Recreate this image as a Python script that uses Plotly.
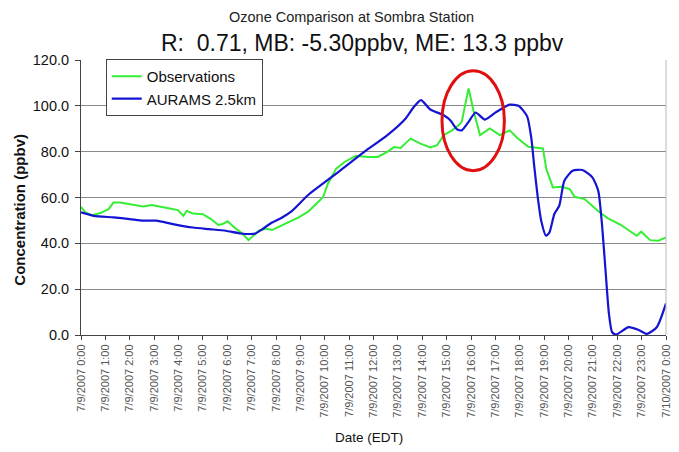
import plotly.graph_objects as go

# ---- data (hours after 7/9/2007 0:00 EDT, ppbv) ----
obs_hours = [0, 0.18, 0.45, 0.79, 1.13, 1.33, 1.6, 2.0, 2.28, 2.55, 2.9, 3.23, 3.64, 3.98,
             4.2, 4.34, 4.59, 5.0, 5.33, 5.64, 5.8, 6.01, 6.28, 6.62, 6.87, 7.1, 7.3, 7.57,
             7.84, 8.11, 8.52, 8.93, 9.32, 9.93, 10.13, 10.47, 10.81, 11.28, 11.76, 12.17,
             12.57, 12.84, 13.11, 13.52, 13.93, 14.33, 14.61, 14.88, 15.22, 15.49, 15.62,
             15.9, 16.1, 16.37, 16.77, 17.18, 17.59, 17.9, 18.35, 18.95, 19.09, 19.36,
             19.71, 20.05, 20.25, 20.66, 21.2, 21.6, 22.14, 22.8, 22.98, 23.35, 23.68, 24.0]
obs_values = [55.9, 53.5, 52.3, 53.2, 54.9, 57.8, 57.8, 57.1, 56.8, 56.1, 56.7, 55.9, 55.2, 54.5,
              52.0, 54.2, 53.0, 52.7, 50.6, 48.0, 48.4, 49.6, 47.0, 44.3, 41.4, 43.6, 45.5, 46.5,
              45.8, 47.2, 49.3, 51.3, 53.8, 60.1, 66.0, 72.6, 75.5, 78.2, 77.7, 77.7,
              79.9, 82.0, 81.6, 85.7, 83.5, 81.8, 82.8, 87.2, 89.3, 91.5, 93.0,
              107.6, 98.1, 87.2, 90.1, 87.2, 89.3, 86.0, 82.1, 81.4, 72.4, 64.4,
              64.7, 63.7, 60.3, 59.3, 54.2, 51.0, 48.1, 43.3, 45.1, 41.4, 41.1, 42.6]

model_hours = [0, 0.52, 1.33, 2.0, 2.55, 3.09, 3.77, 4.59, 5.26, 5.94, 6.55, 7.16, 7.44, 7.84,
               8.25, 8.66, 9.31, 10.47, 11.62, 12.57, 13.32, 13.66, 13.95, 14.33, 14.88, 15.15,
               15.42, 15.62, 15.9, 16.19, 16.57, 17.05, 17.59, 17.95, 18.3, 18.47, 18.6, 18.74,
               18.88, 19.08, 19.22, 19.42, 19.62, 19.83, 20.17, 20.57, 20.98, 21.22, 21.36,
               21.52, 21.66, 21.79, 21.95, 22.47, 22.88, 23.22, 23.62, 24.0]
model_values = [53.5, 52.0, 51.3, 50.6, 49.9, 49.9, 48.4, 46.9, 46.2, 45.5, 44.3, 44.3, 46.2, 49.1,
                51.3, 54.2, 61.0, 70.4, 79.9, 87.2, 94.5, 99.6, 102.5, 98.4, 95.9, 93.7,
                89.8, 89.3, 93.0, 97.1, 94.0, 97.4, 100.5, 100.0, 95.5, 86.2, 73.1, 60.0,
                49.9, 43.3, 44.8, 52.8, 56.4, 67.3, 71.7, 72.0, 68.8, 62.9, 49.9,
                28.1, 9.2, 1.2, 0.2, 3.4, 2.2, 0.5, 3.4, 13.8]

tick_hours = list(range(25))
tick_labels = [f"7/9/2007 {h}:00" for h in range(24)] + ["7/10/2007 0:00"]
y_ticks = [0, 20, 40, 60, 80, 100, 120]

# highlighted region (ellipse) in data units
ellipse_x = [14.81, 17.37]
ellipse_y = [71.7, 115.3]

FONT = "Liberation Sans, Arial, sans-serif"

fig = go.Figure()
fig.add_trace(go.Scatter(x=obs_hours, y=obs_values, mode="lines", name="Observations",
                         line=dict(color="#33ee33", width=2)))
fig.add_trace(go.Scatter(x=model_hours, y=model_values, mode="lines", name="AURAMS 2.5km",
                         line=dict(color="#1414d2", width=2.2, shape="spline", smoothing=0.6)))

fig.add_shape(type="circle", xref="x", yref="y",
              x0=ellipse_x[0], x1=ellipse_x[1], y0=ellipse_y[0], y1=ellipse_y[1],
              line=dict(color="#e01010", width=3))

# right border of plot area
fig.add_shape(type="line", xref="paper", yref="paper", x0=1, x1=1, y0=0, y1=1,
              line=dict(color="#b8b8b8", width=1))

fig.add_annotation(text="Ozone Comparison at Sombra Station", xref="paper", yref="paper",
                   x=(354 - 81) / 591, y=1 + (60 - 17) / 275, showarrow=False,
                   font=dict(family=FONT, size=14.5, color="#222"), xanchor="center", yanchor="middle")
fig.add_annotation(text="R:  0.71, MB: -5.30ppbv, ME: 13.3 ppbv", xref="paper", yref="paper",
                   x=(365 - 81) / 591, y=1 + (60 - 43) / 275, showarrow=False,
                   font=dict(family=FONT, size=23, color="#111"), xanchor="center", yanchor="middle")
fig.add_annotation(text="<b>Concentration (ppbv)</b>", xref="paper", yref="paper",
                   x=(18 - 81) / 591, y=(335 - 210) / 275, textangle=-90, showarrow=False,
                   font=dict(family=FONT, size=15, color="#111"), xanchor="center", yanchor="middle")
fig.add_annotation(text="Date (EDT)", xref="paper", yref="paper",
                   x=(372 - 81) / 591, y=-(437 - 335) / 275, showarrow=False,
                   font=dict(family=FONT, size=13.5, color="#111"), xanchor="center", yanchor="middle")

fig.update_layout(
    width=679, height=452,
    margin=dict(l=81, r=7, t=60, b=117),
    paper_bgcolor="white", plot_bgcolor="white",
    font=dict(family=FONT, color="#111"),
    showlegend=True,
    legend=dict(x=(106 - 81) / 591, y=1.004, xanchor="left", yanchor="top",
                bgcolor="white", bordercolor="#444", borderwidth=1,
                font=dict(family=FONT, size=15, color="#111"),
                tracegroupgap=0, itemwidth=30),
    xaxis=dict(range=[0, 24], tickmode="array", tickvals=tick_hours, ticktext=tick_labels,
               tickangle=-90, ticks="outside", ticklen=4, tickcolor="#444",
               tickfont=dict(family=FONT, size=11, color="#555"),
               showline=True, linecolor="#444", linewidth=1, showgrid=False, zeroline=False),
    yaxis=dict(range=[0, 120], tickmode="array", tickvals=y_ticks, tickformat=".1f",
               ticks="outside", ticklen=5, tickcolor="#444", ticklabelstandoff=3,
               tickfont=dict(family=FONT, size=14.5, color="#111"),
               showline=True, linecolor="#444", linewidth=1,
               showgrid=True, gridcolor="#8a8a8a", gridwidth=1, zeroline=False),
)

fig.write_html("out.html")
